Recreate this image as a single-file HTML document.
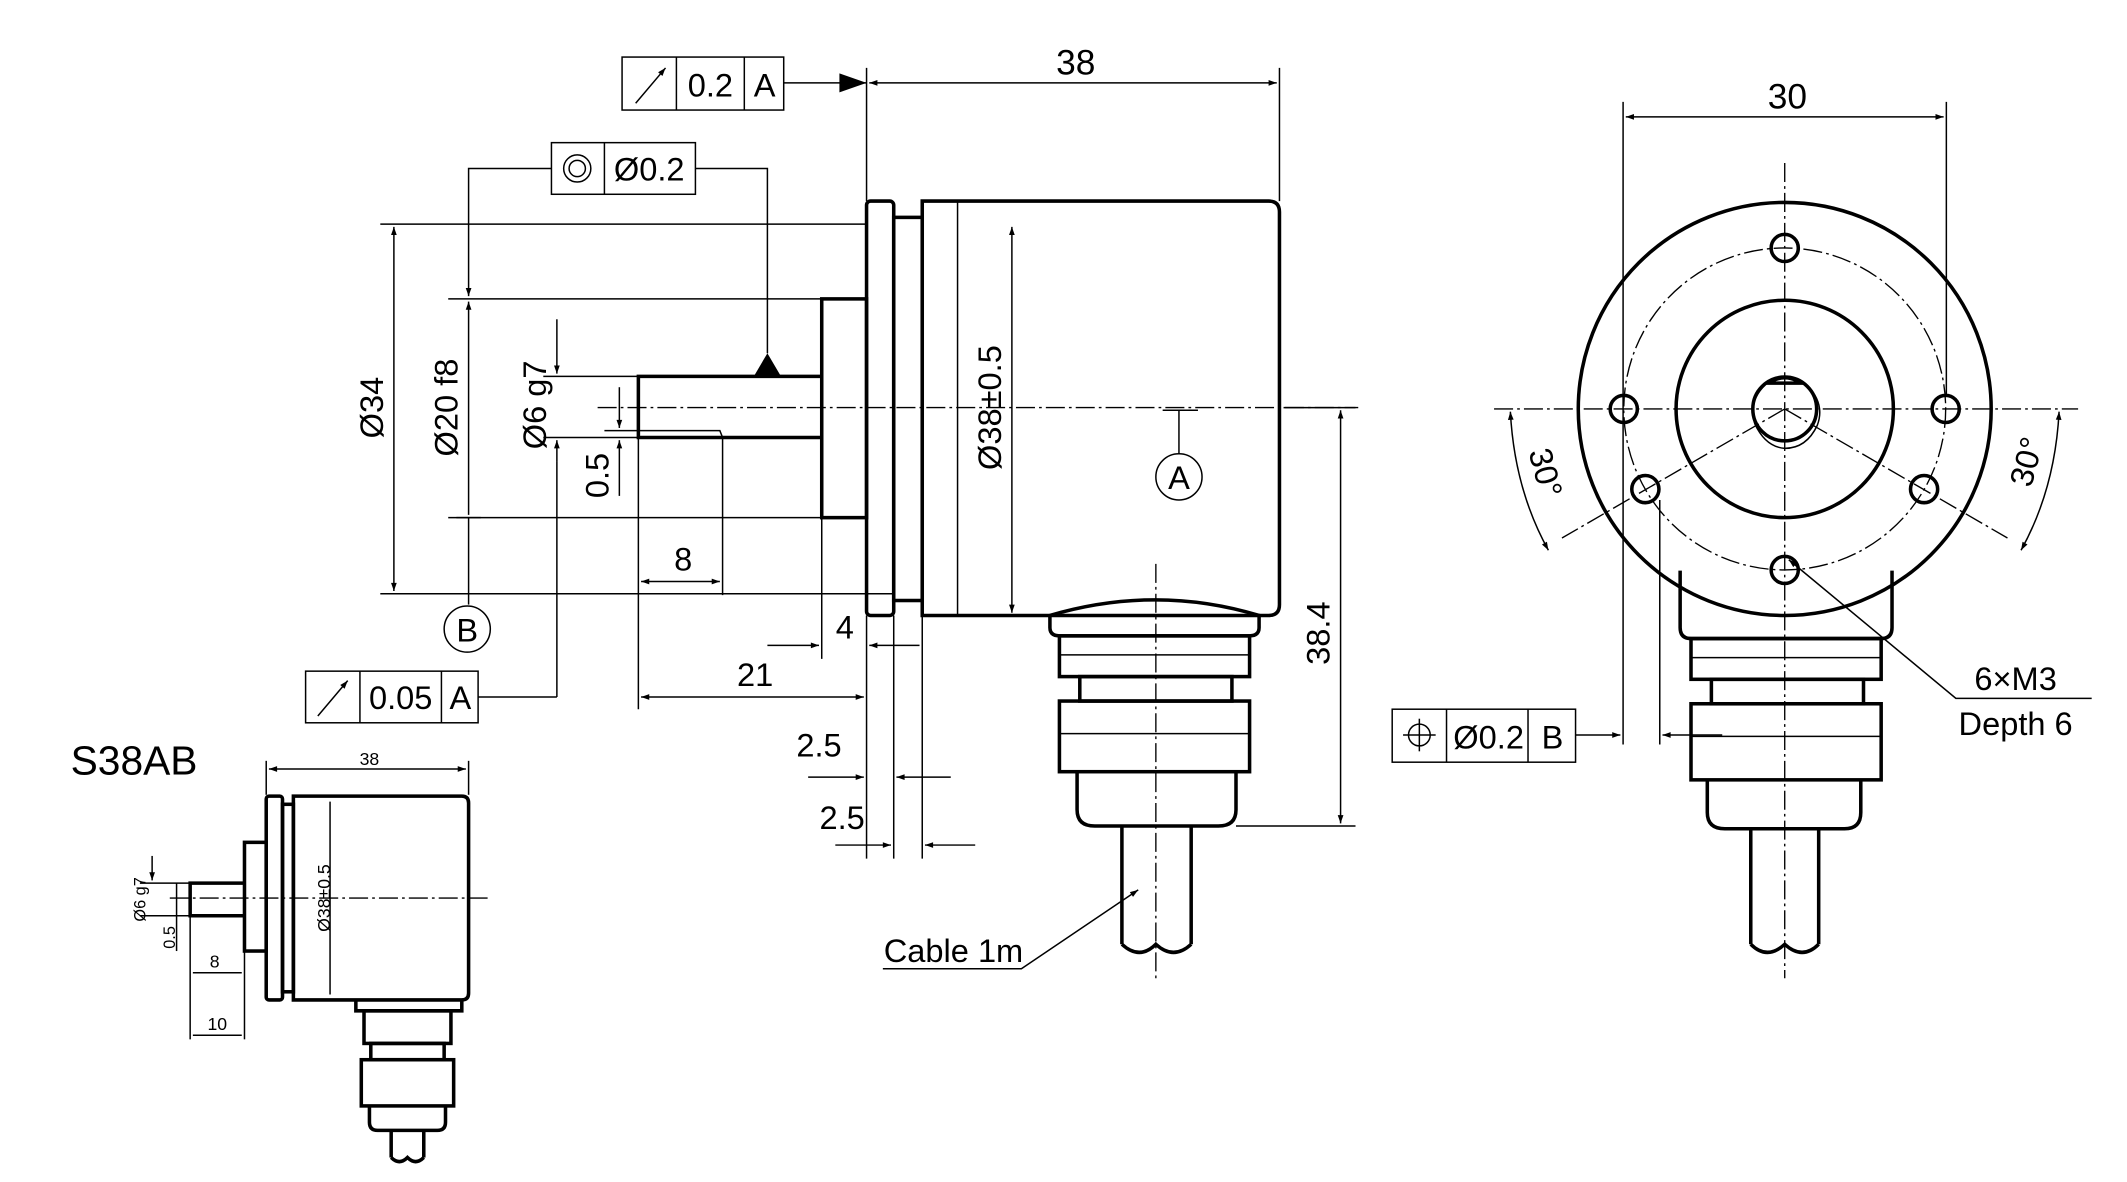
<!DOCTYPE html>
<html><head><meta charset="utf-8"><style>
html,body{margin:0;padding:0;background:#fff}
svg{display:block}
text{font-family:"Liberation Sans",sans-serif;fill:#000}
.t{stroke:#000;stroke-width:2.6;fill:none}
.n{stroke:#000;stroke-width:1.1;fill:none}
.c{stroke:#000;stroke-width:1;fill:none;stroke-dasharray:14 3 2 3}
</style></head><body>
<svg width="2127" height="1182" viewBox="0 0 1566 870" preserveAspectRatio="none" xmlns="http://www.w3.org/2000/svg">
<defs>
<marker id="a" viewBox="0 0 10 10" refX="10" refY="5" markerWidth="16" markerHeight="6" markerUnits="userSpaceOnUse" orient="auto-start-reverse"><path d="M0,1.5L10,5L0,8.5z" fill="#000"/></marker>
</defs>

<!-- ===== Main view ===== -->
<!-- flange -->
<rect class="t" x="638" y="148" width="20" height="305" rx="3"/>
<rect class="t" x="658" y="160" width="21" height="282"/>
<path class="t" d="M679,148 H934 Q942,148 942,156 V445 Q942,453 934,453 H679 Z"/>
<line class="n" x1="705" y1="148" x2="705" y2="453"/>
<!-- pilot -->
<rect class="t" x="605" y="220" width="33" height="161"/>
<!-- shaft -->
<path class="t" d="M605,277 H470 V322 H605"/>
<path class="n" d="M470,317 H530 L532,322"/>
<line class="c" x1="440" y1="300" x2="1000" y2="300"/>
<!-- connector -->
<path class="t" d="M773,453 V462 Q773,468 780,468 H920 Q927,468 927,462 V453 Q851,430 773,453"/>
<rect class="t" x="780" y="468" width="140" height="30"/>
<rect class="t" x="795" y="498" width="112" height="18"/>
<rect class="t" x="780" y="516" width="140" height="52"/>
<path class="t" d="M793,568 V596 Q793,608 806,608 H897 Q910,608 910,596 V568"/>
<line class="n" x1="780" y1="482" x2="920" y2="482"/>
<line class="n" x1="780" y1="540" x2="920" y2="540"/>
<line class="t" x1="826" y1="608" x2="826" y2="695"/>
<line class="t" x1="877" y1="608" x2="877" y2="695"/>
<path class="t" d="M826,695 q13,12 25,0 q13,12 26,0"/>
<line class="c" x1="851" y1="415" x2="851" y2="720"/>
<!-- datum A -->
<line class="n" x1="856" y1="302" x2="882" y2="302"/>
<line class="n" x1="868" y1="302" x2="868" y2="334"/>
<circle class="n" cx="868" cy="351" r="17"/><text x="868" y="360" font-size="24" text-anchor="middle">A</text>

<!-- dimension 38 -->
<line class="n" x1="638" y1="50" x2="638" y2="148"/>
<line class="n" x1="942" y1="50" x2="942" y2="148"/>
<line class="n" x1="640" y1="61" x2="940" y2="61" marker-start="url(#a)" marker-end="url(#a)"/>
<text x="792" y="55" font-size="26" text-anchor="middle">38</text>
<line class="n" x1="577" y1="61" x2="638" y2="61"/>
<path d="M638,61 L618,54 L618,68z"/>
<rect class="n" x="458" y="42" width="119" height="39"/>
<line class="n" x1="498" y1="42" x2="498" y2="81"/><line class="n" x1="548" y1="42" x2="548" y2="81"/>
<line class="n" x1="468" y1="76" x2="490" y2="50" marker-end="url(#a)"/>
<text x="523" y="71" font-size="24" text-anchor="middle">0.2</text>
<text x="563" y="71" font-size="24" text-anchor="middle">A</text>

<!-- concentricity frame -->
<rect class="n" x="406" y="105" width="106" height="38"/>
<line class="n" x1="445" y1="105" x2="445" y2="143"/>
<circle class="n" cx="425" cy="124" r="10"/><circle class="n" cx="425" cy="124" r="6"/>
<text x="478" y="133" font-size="24" text-anchor="middle">Ø0.2</text>
<path class="n" d="M406,124 H345 V218" marker-end="url(#a)"/>
<path class="n" d="M512,124 H565 V260"/>
<path d="M565,260 L555,277 L575,277z"/>

<!-- extension lines left -->
<line class="n" x1="280" y1="165" x2="638" y2="165"/>
<line class="n" x1="280" y1="437" x2="657" y2="437"/>
<line class="n" x1="330" y1="220" x2="605" y2="220"/>
<line class="n" x1="330" y1="381" x2="605" y2="381"/>
<line class="n" x1="290" y1="167" x2="290" y2="435" marker-start="url(#a)" marker-end="url(#a)"/>
<text transform="translate(282,300) rotate(-90)" font-size="24" text-anchor="middle">Ø34</text>
<line class="n" x1="345" y1="222" x2="345" y2="379" marker-start="url(#a)"/>
<line class="n" x1="345" y1="381" x2="345" y2="445"/>
<line class="n" x1="336" y1="381" x2="354" y2="381" stroke-width="2"/>
<text transform="translate(337,300) rotate(-90)" font-size="24" text-anchor="middle">Ø20 f8</text>
<circle class="n" cx="344" cy="463" r="17"/><text x="344" y="472" font-size="24" text-anchor="middle">B</text>
<!-- Ø6 g7 -->
<line class="n" x1="400" y1="277" x2="470" y2="277"/>
<line class="n" x1="400" y1="322" x2="470" y2="322"/>
<line class="n" x1="410" y1="235" x2="410" y2="275" marker-end="url(#a)"/>
<line class="n" x1="410" y1="340" x2="410" y2="324" marker-end="url(#a)"/>
<text transform="translate(402,298) rotate(-90)" font-size="24" text-anchor="middle">Ø6 g7</text>
<line class="n" x1="410" y1="340" x2="410" y2="513"/>
<line class="n" x1="352" y1="513" x2="410" y2="513"/>
<rect class="n" x="225" y="494" width="127" height="38"/>
<line class="n" x1="265" y1="494" x2="265" y2="532"/><line class="n" x1="325" y1="494" x2="325" y2="532"/>
<line class="n" x1="234" y1="527" x2="256" y2="501" marker-end="url(#a)"/>
<text x="295" y="522" font-size="24" text-anchor="middle">0.05</text>
<text x="339" y="522" font-size="24" text-anchor="middle">A</text>
<!-- 0.5 -->
<line class="n" x1="445" y1="317" x2="470" y2="317"/>
<line class="n" x1="456" y1="285" x2="456" y2="315" marker-end="url(#a)"/>
<line class="n" x1="456" y1="365" x2="456" y2="324" marker-end="url(#a)"/>
<text transform="translate(448,350) rotate(-90)" font-size="24" text-anchor="middle">0.5</text>
<!-- 8 -->
<line class="n" x1="470" y1="322" x2="470" y2="522"/>
<line class="n" x1="532" y1="322" x2="532" y2="438"/>
<line class="n" x1="472" y1="428" x2="530" y2="428" marker-start="url(#a)" marker-end="url(#a)"/>
<text x="503" y="420" font-size="24" text-anchor="middle">8</text>
<!-- 21 -->
<line class="n" x1="472" y1="513" x2="636" y2="513" marker-start="url(#a)" marker-end="url(#a)"/>
<text x="556" y="505" font-size="24" text-anchor="middle">21</text>
<line class="n" x1="638" y1="453" x2="638" y2="632"/>
<line class="n" x1="605" y1="381" x2="605" y2="485"/>
<line class="n" x1="658" y1="453" x2="658" y2="632"/>
<line class="n" x1="679" y1="453" x2="679" y2="632"/>
<!-- 4 -->
<line class="n" x1="565" y1="475" x2="603" y2="475" marker-end="url(#a)"/>
<line class="n" x1="640" y1="475" x2="677" y2="475" marker-start="url(#a)"/>
<text x="622" y="470" font-size="24" text-anchor="middle">4</text>
<!-- 2.5 -->
<line class="n" x1="595" y1="572" x2="636" y2="572" marker-end="url(#a)"/>
<line class="n" x1="660" y1="572" x2="700" y2="572" marker-start="url(#a)"/>
<text x="603" y="557" font-size="24" text-anchor="middle">2.5</text>
<line class="n" x1="615" y1="622" x2="656" y2="622" marker-end="url(#a)"/>
<line class="n" x1="681" y1="622" x2="718" y2="622" marker-start="url(#a)"/>
<text x="620" y="610" font-size="24" text-anchor="middle">2.5</text>
<!-- Ø38 -->
<line class="n" x1="745" y1="167" x2="745" y2="451" marker-start="url(#a)" marker-end="url(#a)"/>
<text transform="translate(737,300) rotate(-90)" font-size="24" text-anchor="middle">Ø38±0.5</text>
<!-- 38.4 -->
<line class="n" x1="945" y1="300" x2="998" y2="300"/>
<line class="n" x1="910" y1="608" x2="998" y2="608"/>
<line class="n" x1="987" y1="302" x2="987" y2="606" marker-start="url(#a)" marker-end="url(#a)"/>
<text transform="translate(979,466) rotate(-90)" font-size="24" text-anchor="middle">38.4</text>
<!-- cable label -->
<path class="n" d="M650,713 H752 L838,655" marker-end="url(#a)"/>
<text x="702" y="708" font-size="24" text-anchor="middle">Cable 1m</text>

<!-- ===== Right view ===== -->
<line class="c" x1="1100" y1="301" x2="1530" y2="301"/>
<line class="c" x1="1314" y1="120" x2="1314" y2="720"/>
<path class="t" d="M1237,420 V462 Q1237,470 1245,470 H1385 Q1393,470 1393,462 V420"/>
<rect class="t" x="1245" y="470" width="140" height="30"/>
<rect class="t" x="1260" y="500" width="112" height="18"/>
<rect class="t" x="1245" y="518" width="140" height="56"/>
<path class="t" d="M1257,574 V598 Q1257,610 1270,610 H1358 Q1370,610 1370,598 V574"/>
<line class="n" x1="1245" y1="484" x2="1385" y2="484"/>
<line class="n" x1="1245" y1="542" x2="1385" y2="542"/>
<line class="t" x1="1289" y1="610" x2="1289" y2="695"/>
<line class="t" x1="1339" y1="610" x2="1339" y2="695"/>
<path class="t" d="M1289,695 q12,12 25,0 q13,12 25,0"/>
<circle cx="1314" cy="301" r="152" fill="#fff" class="t"/>
<circle cx="1314" cy="301" r="118.5" class="c"/>
<circle cx="1314" cy="301" r="80" class="t"/>
<circle cx="1314" cy="301" r="23.5" class="t"/>
<path class="n" d="M1300,283 Q1287,295 1292,312 Q1300,329 1314,330 Q1330,330 1338,313 Q1344,297 1330,283"/>
<path class="t" d="M1302,282 Q1314,274 1326,282 Z" fill="#000"/>
<line class="c" x1="1314" y1="301" x2="1150" y2="396"/>
<line class="c" x1="1314" y1="301" x2="1478" y2="396"/>
<g class="t" stroke-width="2">
<circle cx="1314" cy="182.5" r="10"/><circle cx="1314" cy="419.5" r="10"/>
<circle cx="1195.5" cy="301" r="10"/><circle cx="1432.5" cy="301" r="10"/>
<circle cx="1211.4" cy="360" r="10"/><circle cx="1416.6" cy="360" r="10"/>
</g>
<!-- 30 dim -->
<line class="n" x1="1195" y1="75" x2="1195" y2="548"/>
<line class="n" x1="1433" y1="75" x2="1433" y2="290"/>
<line class="n" x1="1197" y1="86" x2="1431" y2="86" marker-start="url(#a)" marker-end="url(#a)"/>
<text x="1316" y="80" font-size="26" text-anchor="middle">30</text>
<line class="n" x1="1222" y1="368" x2="1222" y2="548"/>
<!-- angle arcs -->
<path class="n" d="M1112,303 Q1115,360 1140,405" marker-start="url(#a)" marker-end="url(#a)"/>
<text transform="translate(1130,350) rotate(75)" font-size="24" text-anchor="middle">30°</text>
<path class="n" d="M1516,303 Q1513,360 1488,405" marker-start="url(#a)" marker-end="url(#a)"/>
<text transform="translate(1500,342) rotate(-75)" font-size="24" text-anchor="middle">30°</text>
<!-- 6xM3 -->
<path class="n" d="M1540,514 H1440 L1317,412" marker-end="url(#a)"/>
<text x="1484" y="508" font-size="24" text-anchor="middle">6×M3</text>
<text x="1484" y="541" font-size="24" text-anchor="middle">Depth 6</text>
<!-- position frame -->
<rect class="n" x="1025" y="522" width="135" height="39"/>
<line class="n" x1="1065" y1="522" x2="1065" y2="561"/><line class="n" x1="1125" y1="522" x2="1125" y2="561"/>
<circle class="n" cx="1045" cy="541" r="8"/><line class="n" x1="1045" y1="529" x2="1045" y2="553"/><line class="n" x1="1033" y1="541" x2="1057" y2="541"/>
<text x="1096" y="551" font-size="24" text-anchor="middle">Ø0.2</text>
<text x="1143" y="551" font-size="24" text-anchor="middle">B</text>
<line class="n" x1="1160" y1="541" x2="1193" y2="541" marker-end="url(#a)"/>
<line class="n" x1="1268" y1="541" x2="1224" y2="541" marker-end="url(#a)"/>

<!-- ===== Small view ===== -->
<text x="52" y="570" font-size="30">S38AB</text>
<line class="n" x1="196" y1="560" x2="196" y2="585"/><line class="n" x1="345" y1="560" x2="345" y2="585"/>
<line class="n" x1="198" y1="566" x2="343" y2="566" marker-start="url(#a)" marker-end="url(#a)"/>
<text x="272" y="563" font-size="13" text-anchor="middle">38</text>
<rect class="t" x="196" y="586" width="12" height="150" rx="2" stroke-width="2"/>
<rect class="t" x="208" y="592" width="8" height="138" stroke-width="2"/>
<path class="t" stroke-width="2" d="M216,586 H340 Q345,586 345,591 V731 Q345,736 340,736 H216 Z"/>
<rect class="t" x="180" y="620" width="16" height="80" stroke-width="2"/>
<path class="t" stroke-width="2" d="M180,650 H140 V674 H180"/>
<line class="c" x1="125" y1="661" x2="360" y2="661"/>
<line class="n" x1="243" y1="590" x2="243" y2="732"/>
<text transform="translate(243,661) rotate(-90)" font-size="13" text-anchor="middle">Ø38±0.5</text>
<line class="n" x1="103" y1="650" x2="140" y2="650"/><line class="n" x1="103" y1="674" x2="140" y2="674"/>
<line class="n" x1="112" y1="630" x2="112" y2="648" marker-end="url(#a)"/>
<text transform="translate(107,662) rotate(-90)" font-size="12" text-anchor="middle">Ø6 g7</text>
<line class="n" x1="130" y1="650" x2="130" y2="700"/>
<text transform="translate(129,690) rotate(-90)" font-size="12" text-anchor="middle">0.5</text>
<line class="n" x1="140" y1="674" x2="140" y2="765"/><line class="n" x1="180" y1="700" x2="180" y2="765"/>
<line class="n" x1="142" y1="716" x2="178" y2="716"/>
<text x="158" y="712" font-size="13" text-anchor="middle">8</text>
<line class="n" x1="142" y1="762" x2="178" y2="762"/>
<text x="160" y="758" font-size="13" text-anchor="middle">10</text>
<path class="t" stroke-width="2" d="M262,736 V744 H340 V736"/>
<rect class="t" stroke-width="2" x="268" y="744" width="64" height="24"/>
<rect class="t" stroke-width="2" x="273" y="768" width="54" height="12"/>
<rect class="t" stroke-width="2" x="266" y="780" width="68" height="34"/>
<path class="t" stroke-width="2" d="M272,814 V826 Q272,832 278,832 H322 Q328,832 328,826 V814"/>
<line class="t" stroke-width="2" x1="288" y1="832" x2="288" y2="852"/>
<line class="t" stroke-width="2" x1="312" y1="832" x2="312" y2="852"/>
<path class="t" stroke-width="2" d="M288,852 q6,6 12,0 q6,6 12,0"/>
</svg>
</body></html>
